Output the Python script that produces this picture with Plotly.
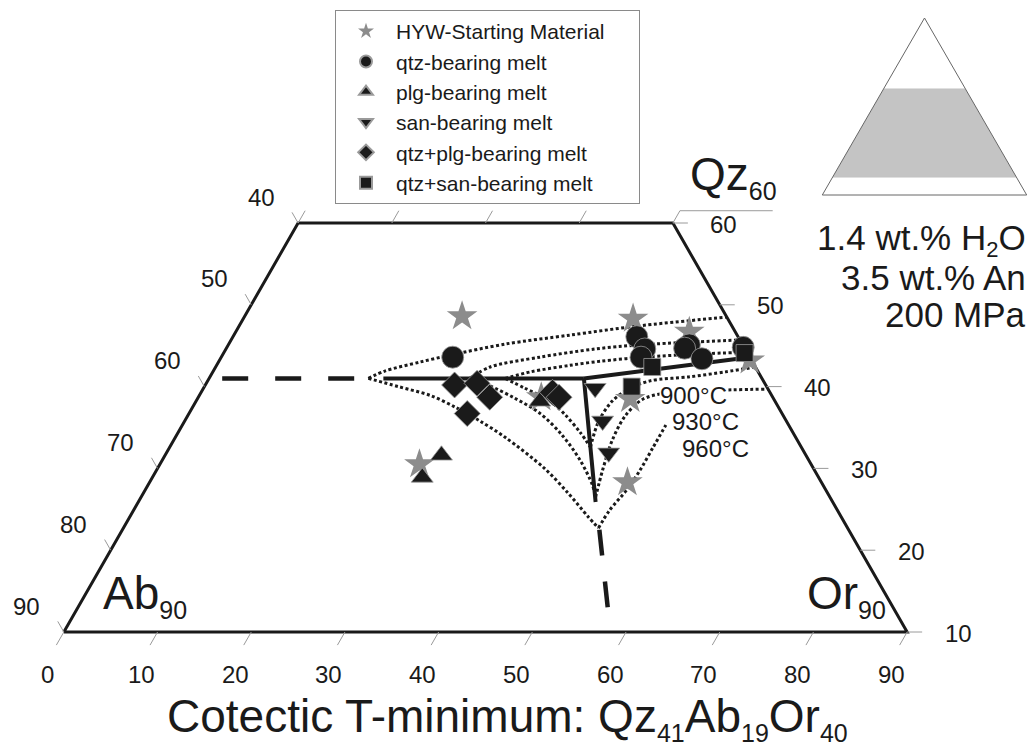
import plotly.graph_objects as go

FONT = "Liberation Sans, Arial, sans-serif"
INK = "#1a1a1a"
TICK_GRAY = "#9a9a9a"
STAR_GRAY = "#8c8c8c"

# Visible window of the Qz-Ab-Or ternary (normative wt.%, Qz + Ab + Or = 100)
QZ_MIN, QZ_MAX = 10, 60

# Cotectic T-minimum
TMIN_QZ, TMIN_AB, TMIN_OR = 41, 19, 40

# ---- compositions (Qz and Or in wt.%, Ab is the remainder) ----
hyw_qz = [48.6, 30.5, 38.7, 48.3, 46.7, 43.2, 38.5, 28.3]
hyw_or = [23.2, 27.7, 36.6, 41.6, 48.4, 56.6, 46.2, 51.0]

qtz_qz = [43.6, 46.1, 44.6, 43.6, 45.1, 44.7, 43.4, 44.8]
qtz_or = [24.7, 43.1, 44.7, 44.8, 49.2, 48.9, 51.4, 55.1]

plg_qz = [31.6, 28.9, 38.2]
plg_or = [29.5, 28.8, 36.7]

san_qz = [39.8, 35.8, 31.9]
san_or = [41.8, 44.6, 47.2]

qtz_plg_qz = [40.2, 40.4, 38.7, 36.7, 39.3, 38.7]
qtz_plg_or = [26.6, 28.9, 31.1, 29.7, 37.5, 38.5]

qtz_san_qz = [42.4, 40.0, 44.1]
qtz_san_or = [46.6, 45.6, 55.6]

# ---- phase boundaries ----
bnd_qtz_fsp_ext_qz = [41.0, 41.0]
bnd_qtz_fsp_ext_or = [1.4, 15.6]
bnd_qtz_plg_qz = [41.0, TMIN_QZ]
bnd_qtz_plg_or = [18.6, TMIN_OR]
bnd_qtz_san_qz = [TMIN_QZ, 43.6]
bnd_qtz_san_or = [TMIN_OR, 56.4]
bnd_plg_san_qz = [TMIN_QZ, 25.9]
bnd_plg_san_or = [TMIN_OR, 48.8]
bnd_plg_san_ext_qz = [22.5, 12.4]
bnd_plg_san_ext_or = [50.9, 56.9]

# ---- liquidus isotherms (qtz, plg and san field branches) ----
iso960_qtz_qz = [41.0, 41.9, 43.0, 43.9, 45.2, 46.3, 47.4, 48.5]
iso960_qtz_or = [17.0, 18.3, 21.5, 24.5, 29.5, 35.9, 42.5, 51.5]
iso960_plg_qz = [41.0, 40.0, 38.9, 37.5, 35.8, 33.8, 30.0, 27.0, 24.1, 22.7]
iso960_plg_or = [17.0, 20.7, 24.7, 28.0, 31.5, 35.2, 41.3, 45.3, 48.9, 50.7]
iso960_san_qz = [22.7, 24.9, 27.4, 29.8, 32.6, 35.3]
iso960_san_or = [50.7, 50.8, 51.4, 51.6, 51.6, 51.6]

iso930_qtz_qz = [41.0, 42.4, 43.6, 44.6, 45.1, 45.7]
iso930_qtz_or = [27.8, 29.3, 34.0, 39.4, 43.9, 54.3]
iso930_plg_qz = [41.0, 40.1, 38.6, 36.7, 34.1, 31.0, 28.0, 26.5]
iso930_plg_or = [27.8, 30.4, 33.8, 37.5, 41.1, 44.6, 47.4, 48.5]
iso930_san_qz = [26.5, 29.8, 33.5, 36.4, 38.4, 39.2, 39.5, 39.7]
iso930_san_or = [48.5, 47.6, 46.8, 46.7, 47.5, 49.5, 53.7, 60.3]

iso900_qtz_qz = [41.0, 41.8, 42.6, 43.1, 43.6, 44.0, 44.2]
iso900_qtz_or = [31.6, 33.9, 37.7, 40.7, 45.2, 50.9, 55.8]
iso900_plg_qz = [41.0, 39.8, 38.4, 36.5, 34.4, 32.6]
iso900_plg_or = [31.6, 34.3, 37.5, 40.3, 42.9, 44.9]
iso900_san_qz = [32.6, 35.7, 38.2, 39.7, 40.7, 41.2, 41.8, 42.4]
iso900_san_or = [44.9, 44.2, 44.4, 45.4, 47.2, 51.2, 54.7, 57.6]

iso_labels = ["900°C", "930°C", "960°C"]
iso_label_qz = [38.9, 35.7, 32.4]
iso_label_or = [52.8, 55.6, 58.3]

# ---- axis ticks ----
ab_ticks = [40, 50, 60, 70, 80, 90]
or_ticks = [0, 10, 20, 30, 40, 50, 60, 70, 80, 90]
qz_ticks = [60, 50, 40, 30, 20, 10]
or_top_ticks = [0, 10, 20, 30, 40]


def to_xy(qz, orr):
    """Cartesian position of Qz-Ab-Or compositions, Qz at the apex."""
    xs, ys = [], []
    for q, o in zip(qz, orr):
        if q is None:
            xs.append(None)
            ys.append(None)
        else:
            xs.append(o + q / 2.0)
            ys.append(q)
    return xs, ys


fig = go.Figure()


def add_line(qz, orr, width, dash="solid", color=INK, shape="linear"):
    x, y = to_xy(qz, orr)
    fig.add_trace(go.Scatter(
        x=x, y=y, mode="lines", showlegend=False, hoverinfo="skip",
        line=dict(color=color, width=width, dash=dash, shape=shape, smoothing=0.9),
    ))


# frame of the truncated triangle
frame_qz = [QZ_MIN, QZ_MIN, QZ_MAX, QZ_MAX, QZ_MIN]
frame_or = [0, 100 - QZ_MIN, 100 - QZ_MAX, 0, 0]
add_line(frame_qz, frame_or, 3)

# tick marks, each parallel to its grid direction
tq, to = [], []
for ab in ab_ticks:                      # Ab on the left side
    q = 100 - ab
    tq += [q, q + 1.3, None]
    to += [0, -1.3, None]
for o in or_ticks:                       # Or along the base
    tq += [QZ_MIN, QZ_MIN - 1.6, None]
    to += [o, o, None]
for q in qz_ticks:                       # Qz on the right side
    tq += [q, q, None]
    to += [100 - q, 100 - q + 1.6, None]
for o in or_top_ticks:                   # Or along the top edge
    tq += [QZ_MAX, QZ_MAX + 1.5, None]
    to += [o, o, None]
tq += [QZ_MAX + 1.5, QZ_MAX + 1.5]       # rule under the Qz corner label
to += [100 - QZ_MAX, 49.9]
add_line(tq, to, 1, color=TICK_GRAY)

# isotherms
dotted = "3px,2.5px"
for bq, bo in [
    (iso960_qtz_qz, iso960_qtz_or), (iso960_plg_qz, iso960_plg_or), (iso960_san_qz, iso960_san_or),
    (iso930_qtz_qz, iso930_qtz_or), (iso930_plg_qz, iso930_plg_or), (iso930_san_qz, iso930_san_or),
    (iso900_qtz_qz, iso900_qtz_or), (iso900_plg_qz, iso900_plg_or), (iso900_san_qz, iso900_san_or),
]:
    add_line(bq, bo, 3, dash=dotted, shape="spline")

# cotectic lines and field boundaries
add_line(bnd_qtz_fsp_ext_qz, bnd_qtz_fsp_ext_or, 4.5, dash="26px,27px")
add_line(bnd_qtz_plg_qz, bnd_qtz_plg_or, 4)
add_line(bnd_qtz_san_qz, bnd_qtz_san_or, 4)
add_line(bnd_plg_san_qz, bnd_plg_san_or, 4)
add_line(bnd_plg_san_ext_qz, bnd_plg_san_ext_or, 4.5, dash="26px,26px")

# experimental glasses
edge = dict(color="#9a9a9a", width=0.8)
NBSP = "\u00a0"
series = [
    ("HYW-Starting Material" + NBSP * 5, hyw_qz, hyw_or, "star", 23, STAR_GRAY, dict(width=0)),
    ("qtz-bearing melt", qtz_qz, qtz_or, "circle", 22, INK, edge),
    ("plg-bearing melt", plg_qz, plg_or, "triangle-up", 19, INK, edge),
    ("san-bearing melt", san_qz, san_or, "triangle-down", 19, INK, edge),
    ("qtz+plg-bearing melt", qtz_plg_qz, qtz_plg_or, "diamond", 20, INK, edge),
    ("qtz+san-bearing melt", qtz_san_qz, qtz_san_or, "square", 17, INK, edge),
]
for name, sq, so, sym, size, col, mline in series:
    x, y = to_xy(sq, so)
    fig.add_trace(go.Scatter(
        x=x, y=y, mode="markers", name=name,
        marker=dict(symbol=sym, size=size, color=col, line=mline),
        hoverinfo="skip",
    ))

# inset: full ternary with the plotted Qz window shaded
fig.add_trace(go.Scatterternary(
    a=[QZ_MIN, QZ_MIN, QZ_MAX, QZ_MAX, QZ_MIN],
    b=[100 - QZ_MIN, 0, 0, 100 - QZ_MAX, 100 - QZ_MIN],
    c=[0, 100 - QZ_MIN, 100 - QZ_MAX, 0, 0],
    mode="lines", fill="toself", fillcolor="#c4c4c4",
    line=dict(color="#c4c4c4", width=0.5), showlegend=False, hoverinfo="skip",
    subplot="ternary",
))

ann = []


def label(q, o, text, size, dx, dy, xanchor="center", yanchor="middle", **kw):
    x, y = to_xy([q], [o])
    ann.append(dict(x=x[0], y=y[0], xref="x", yref="y", text=text, showarrow=False,
                    xshift=dx, yshift=dy, xanchor=xanchor, yanchor=yanchor,
                    font=dict(family=FONT, size=size, color=INK), **kw))


for ab in ab_ticks:
    label(100 - ab, 0, str(ab), 24, -37, 26)
for q in qz_ticks:
    label(q, 100 - q, str(q), 24, 51, -1)
for o in or_ticks:
    label(QZ_MIN, o, str(o), 24, -16, -42)

sub = '<sub><span style="font-size:{}px">{}</span></sub>'
label(QZ_MIN, 0, "Ab" + sub.format(25, 90), 46, 37, 37, xanchor="left")
label(QZ_MIN, 100 - QZ_MIN, "Or" + sub.format(25, 90), 46, -19, 37, xanchor="right")
label(QZ_MAX, 100 - QZ_MAX, "Qz" + sub.format(25, 60), 46, 15, 47, xanchor="left")

for t, q, o in zip(iso_labels, iso_label_qz, iso_label_or):
    label(q, o, t, 24, 0, 0, bgcolor="white", borderpad=0)

title = ("Cotectic T-minimum: Qz" + sub.format(25, TMIN_QZ) + "Ab" + sub.format(25, TMIN_AB)
         + "Or" + sub.format(25, TMIN_OR))
ann.append(dict(x=507 / 1032, y=1 - 718 / 754, xref="paper", yref="paper", text=title,
                showarrow=False, xanchor="center", yanchor="middle",
                font=dict(family=FONT, size=46, color=INK)))

for txt, yc in [("1.4 wt.% H" + sub.format(22, 2) + "O", 240),
                ("3.5 wt.% An", 277), ("200 MPa", 314)]:
    ann.append(dict(x=1028 / 1032, y=1 - yc / 754, xref="paper", yref="paper", text=txt,
                    showarrow=False, xanchor="right", yanchor="middle",
                    font=dict(family=FONT, size=35, color=INK)))

axis_off = dict(visible=False, showgrid=False, zeroline=False, fixedrange=True)
ternary_axis = dict(min=0, showline=True, linecolor="#666666", linewidth=1, showgrid=False,
                    showticklabels=False, ticks="", title=dict(text=""))

fig.update_layout(
    width=1032, height=754, autosize=False,
    margin=dict(l=0, r=0, t=0, b=0),
    paper_bgcolor="white", plot_bgcolor="white",
    xaxis=dict(range=[-1.814, 108.324], domain=[0, 1], **axis_off),
    yaxis=dict(range=[-4.914, 87.262], domain=[0, 1], **axis_off),
    ternary=dict(
        domain=dict(x=[822 / 1032, 1027 / 1032], y=[1 - 195 / 754, 1 - 18 / 754]),
        sum=100, bgcolor="white",
        aaxis=ternary_axis, baxis=ternary_axis, caxis=ternary_axis,
    ),
    legend=dict(
        x=335 / 1032, y=1 - 10 / 754, xanchor="left", yanchor="top",
        bgcolor="white", bordercolor="#8a8a8a", borderwidth=1,
        font=dict(family=FONT, size=21, color=INK),
        itemsizing="constant", itemwidth=50, traceorder="normal",
    ),
    annotations=ann,
    hovermode=False,
)

fig.write_html("out.html", config={"displayModeBar": False})
